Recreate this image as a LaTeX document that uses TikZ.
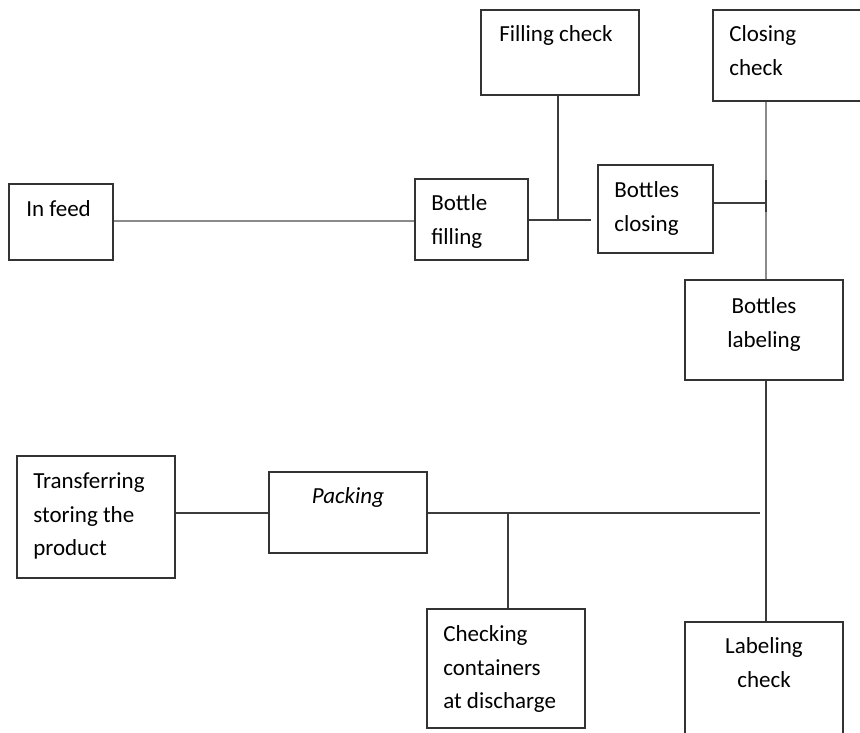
\documentclass[tikz,border=0pt]{standalone}
\usepackage{fontspec}
\setmainfont{Carlito}
\usetikzlibrary{calc}
\definecolor{boxc}{HTML}{333333}
\definecolor{linec}{HTML}{3C3C3C}
\definecolor{grayline}{HTML}{8A8A8A}
\begin{document}
\begin{tikzpicture}[x=1pt,y=-1pt,
  box/.style={draw=boxc, line width=1.8pt, inner sep=0pt, fill=white},
  txt/.style={inner sep=0pt, align=left, font=\fontsize{23}{33.5}\selectfont, text=black},
  ctxt/.style={inner sep=0pt, align=center, font=\fontsize{23}{33.5}\selectfont, text=black},
  conn/.style={draw=linec, line width=1.8pt},
  gconn/.style={draw=grayline, line width=2.4pt}]
\useasboundingbox (0,0) rectangle (860,733);
\clip (0,0) rectangle (860,733);
\fill[white] (0,0) rectangle (860,733);
% boxes
\node[box, minimum width=104pt, minimum height=76pt] (infeed) at (61,222) {};
\node[box, minimum width=113pt, minimum height=81pt] (bfill) at (471.5,219.5) {};
\node[box, minimum width=158pt, minimum height=85pt] (fcheck) at (560,52.5) {};
\node[box, minimum width=115pt, minimum height=88pt] (bclose) at (655.5,209) {};
\node[box, minimum width=160pt, minimum height=91pt] (ccheck) at (793,55.5) {};
\node[box, minimum width=158pt, minimum height=100pt] (blabel) at (764,330) {};
\node[box, minimum width=158pt, minimum height=122pt] (transf) at (96,517) {};
\node[box, minimum width=158pt, minimum height=81pt] (pack) at (348,512.5) {};
\node[box, minimum width=158pt, minimum height=119pt] (cdis) at (506,668.5) {};
\node[box, minimum width=158pt, minimum height=130pt] (lcheck) at (764,687) {};
% texts (base anchor = baseline of last line)
\node[txt, anchor=base west] (tinfeed) at ($(infeed.north west)+(18,33.5)$) {In feed};
\node[txt, anchor=base west] (tbfill) at ($(bfill.north west)+(17,66)$) {Bottle\\filling};
\node[txt, anchor=base west] (tfcheck) at ($(fcheck.north west)+(19,32.5)$) {Filling check};
\node[txt, anchor=base west] (tbclose) at ($(bclose.north west)+(17,67)$) {Bottles\\closing};
\node[txt, anchor=base west] (tccheck) at ($(ccheck.north west)+(17,66)$) {Closing\\check};
\node[ctxt, anchor=base] (tblabel) at ($(blabel.north)+(0,68)$) {Bottles\\labeling};
\node[txt, anchor=base west] (ttransf) at ($(transf.north west)+(17,100.5)$) {Transferring\\storing the\\product};
\node[ctxt, anchor=base] (tpack) at ($(pack.north)+(0,32.5)$) {\itshape Packing};
\node[txt, anchor=base west] (tcdis) at ($(cdis.north west)+(17,100.5)$) {Checking\\containers\\at discharge};
\node[ctxt, anchor=base] (tlcheck) at ($(lcheck.north)+(0,66)$) {Labeling\\check};
% junction coordinates
\coordinate (j1) at (591,220);
\coordinate (j2) at (766,203);
\coordinate (j3) at (760,513);
% connectors
\draw[gconn] (infeed.east |- 0,221) -- (bfill.west |- 0,221);
\draw[conn] (bfill.east |- j1) -- (j1);
\draw[conn] (fcheck.south -| 558,0) -- (558,220);
\draw[conn] (bclose.east |- j2) -- (j2);
\draw[gconn, line width=2pt] (ccheck.south -| j2) -- (blabel.north -| j2);
\draw[conn, line width=2.4pt] (766,180) -- (766,212);
\draw[conn] (blabel.south -| j2) -- (lcheck.north -| j2);
\draw[conn] (pack.east |- j3) -- (j3);
\draw[conn] (cdis.north -| 508,0) -- (508,513);
\draw[conn] (transf.east |- 0,513) -- (pack.west |- 0,513);
\end{tikzpicture}
\end{document}
